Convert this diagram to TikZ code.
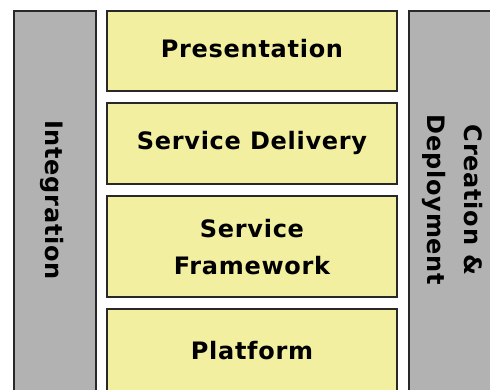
\documentclass[tikz,border=0pt]{standalone}
\usepackage{fontspec}
\setmainfont{DejaVu Sans}[LetterSpace=3]
\definecolor{layerfill}{RGB}{242,239,160}
\definecolor{sidefill}{RGB}{178,178,178}
\definecolor{edgecol}{RGB}{40,40,40}
\tikzset{
  layerbox/.style={draw=edgecol, line width=2pt, fill=layerfill},
  sidebar/.style={draw=edgecol, line width=2pt, fill=sidefill},
  lbl/.style={font=\bfseries\fontsize{24}{37}\selectfont, align=center, text=black},
}
\begin{document}
\begin{tikzpicture}[x=1pt,y=-1pt]
  \useasboundingbox (0,0) rectangle (490,389);
  \clip (0,0) rectangle (490,389);
  \fill[white] (0,0) rectangle (490,389);
  % side bars
  \draw[sidebar] (14,11) rectangle (96,400);
  \draw[sidebar] (409,11) rectangle (500,400);
  % stacked layers
  \draw[layerbox] (107,11) rectangle (397,91);
  \draw[layerbox] (107,103) rectangle (397,184);
  \draw[layerbox] (107,196) rectangle (397,297);
  \draw[layerbox] (107,309) rectangle (397,400);
  % labels
  \node[lbl] (pres) at (252,49) {Presentation};
  \node[lbl] (deliv) at (252,143) {Service Delivery};
  \node[lbl] (frame) at (252,247) {Service\\Framework};
  \node[lbl] (plat) at (252,351) {Platform};
  \node[lbl, rotate=-90] (integ) at (52,200) {Integration};
  \node[lbl, rotate=-90] (create) at (453,200) {Creation \&\\Deployment};
\end{tikzpicture}
\end{document}
